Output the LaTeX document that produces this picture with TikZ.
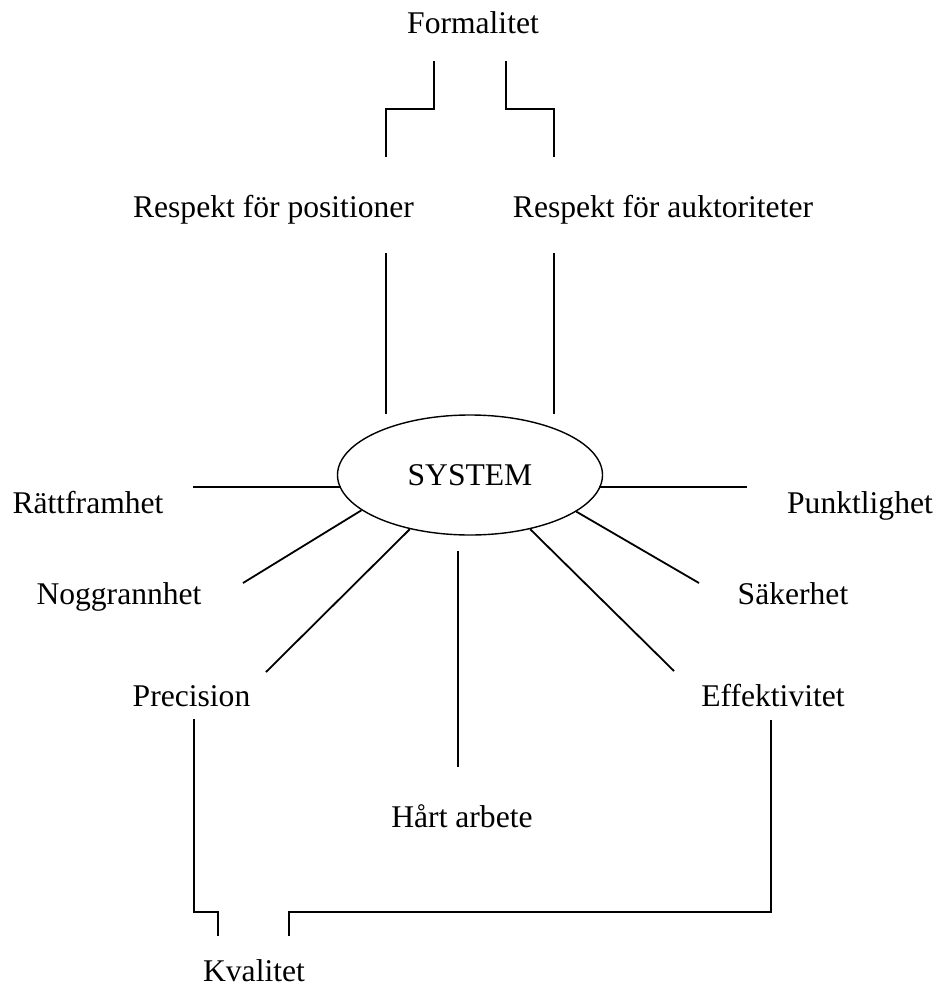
\documentclass[tikz,border=0pt]{standalone}
\usepackage{fontspec}
\setmainfont{Liberation Serif}
\usetikzlibrary{shapes.geometric}
\begin{document}
\begin{tikzpicture}[x=0.5pt,y=-0.5pt,
  lbl/.style={anchor=base,inner sep=0pt,font=\fontsize{15.8}{18}\selectfont},
  conn/.style={line width=0.9pt},
  sysnode/.style={ellipse,draw,line width=0.7pt,minimum width=132.5pt,minimum height=60pt,inner sep=0pt,font=\fontsize{15.8}{18}\selectfont}]
\useasboundingbox (0,0) rectangle (938,985);
% text nodes
\node[lbl] (form) at (473,33) {Formalitet};
\node[lbl] (rpos) at (273.5,217) {Respekt för positioner};
\node[lbl] (rauk) at (663,217) {Respekt för auktoriteter};
\node[sysnode] (sys) at (470,475) {SYSTEM};
\node[lbl] (ratt) at (88,513) {Rättframhet};
\node[lbl] (punk) at (860,513) {Punktlighet};
\node[lbl] (nogg) at (119,604) {Noggrannhet};
\node[lbl] (sak) at (793,604) {Säkerhet};
\node[lbl] (prec) at (191.5,706) {Precision};
\node[lbl] (eff) at (773,706) {Effektivitet};
\node[lbl] (hart) at (462,827) {Hårt arbete};
\node[lbl] (kval) at (254,981) {Kvalitet};
% coordinates
\coordinate (f1) at (434,61);
\coordinate (f1b) at (386,157);
\coordinate (f2) at (506,61);
\coordinate (f2b) at (554,157);
\coordinate (p1) at (386,253);
\coordinate (p2) at (386,414);
\coordinate (a1) at (554,253);
\coordinate (a2) at (554,414);
\coordinate (rattE) at (193,487);
\coordinate (punkE) at (747,487);
\coordinate (noggE) at (243,583);
\coordinate (sakE) at (699,583);
\coordinate (precE) at (266,672);
\coordinate (effE) at (674,671);
\coordinate (h1) at (458,551);
\coordinate (h2) at (458,767);
\coordinate (k1) at (194,719);
\coordinate (k1b) at (218,936);
\coordinate (k2) at (771,720);
\coordinate (k2b) at (289,936);
% connectors
\draw[conn] (f1) -- (434,109) -- (386,109) -- (f1b);
\draw[conn] (f2) -- (506,109) -- (554,109) -- (f2b);
\draw[conn] (p1) -- (p2);
\draw[conn] (a1) -- (a2);
\draw[conn,shorten >=-2pt] (rattE) -- (rattE -| sys.west);
\draw[conn,shorten <=-2pt] (punkE -| sys.east) -- (punkE);
\draw[conn] (noggE) -- (sys.198.9);
\draw[conn] (sys.341.1) -- (sakE);
\draw[conn] (precE) -- (sys.222);
\draw[conn] (sys.318.5) -- (effE);
\draw[conn] (h1) -- (h2);
\draw[conn] (k1) -- (194,912) -- (218,912) -- (k1b);
\draw[conn] (k2b) -- (289,912) -- (771,912) -- (k2);
\end{tikzpicture}
\end{document}
